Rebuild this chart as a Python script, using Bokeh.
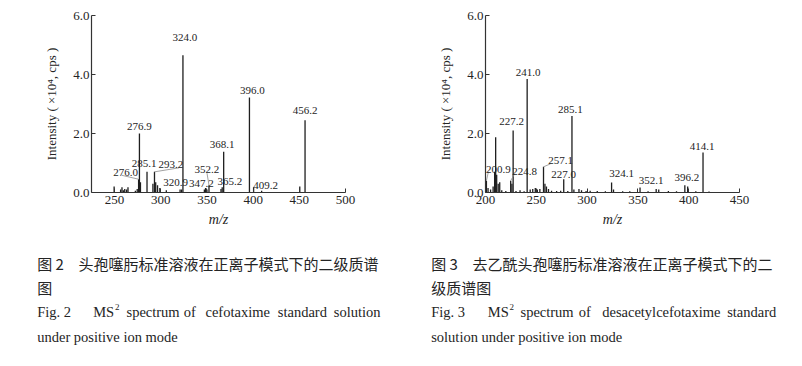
from bokeh.plotting import figure
from bokeh.layouts import row, column
from bokeh.models import Label, FixedTicker, Range1d
from bokeh.embed import file_html
from bokeh.resources import INLINE

# ---------------- data: Fig. 2, cefotaxime ----------------
mz_cef = [249.5, 256.5, 258.0, 259.5, 261.0, 263.0, 264.5, 272.5, 274.5, 276.0,
          276.9, 278.0, 285.1, 291.5, 293.2, 294.5, 296.5, 299.0, 306.0, 320.9,
          322.5, 324.0, 347.2, 348.5, 350.0, 352.2, 365.2, 366.5, 368.1, 396.0,
          400.5, 409.2, 450.5, 456.2]
int_cef = [0.20, 0.10, 0.18, 0.08, 0.12, 0.10, 0.18, 0.06, 0.12, 0.45,
           2.00, 0.35, 0.70, 0.30, 0.70, 0.35, 0.25, 0.15, 0.08, 0.10,
           0.10, 4.65, 0.10, 0.15, 0.10, 0.25, 0.12, 0.18, 1.38, 3.22,
           0.18, 0.06, 0.20, 2.45]
lab_cef_text = ["324.0", "396.0", "456.2", "276.9", "368.1", "285.1", "293.2",
                "276.0", "352.2", "320.9", "347.2", "365.2", "409.2"]
lab_cef_peak = [324.0, 396.0, 456.2, 276.9, 368.1, 285.1, 293.2,
                276.0, 352.2, 320.9, 347.2, 365.2, 409.2]

# ---------------- data: Fig. 3, desacetylcefotaxime ----------------
mz_des = [200.9, 202.5, 205.0, 207.5, 209.0, 210.0, 211.0, 212.5, 214.0, 216.0,
          220.0, 224.8, 226.0, 227.2, 230.0, 234.0, 238.0, 241.0, 244.0, 246.5,
          249.0, 251.0, 253.5, 257.1, 258.5, 260.0, 262.0, 265.0, 270.0, 274.0,
          277.0, 281.0, 285.1, 287.0, 292.0, 294.5, 299.0, 303.0, 310.0, 318.0,
          324.1, 326.0, 335.0, 342.0, 352.1, 360.0, 368.0, 370.5, 380.0, 388.0,
          396.2, 399.0, 407.0, 414.1, 420.0]
int_des = [0.40, 0.15, 0.10, 0.20, 0.70, 1.87, 0.60, 0.30, 0.35, 0.08,
           0.05, 0.40, 0.30, 2.10, 0.05, 0.08, 0.04, 3.85, 0.10, 0.12,
           0.15, 0.10, 0.12, 0.87, 0.30, 0.20, 0.12, 0.06, 0.05, 0.06,
           0.45, 0.05, 2.59, 0.10, 0.12, 0.08, 0.05, 0.06, 0.05, 0.04,
           0.34, 0.10, 0.04, 0.04, 0.17, 0.04, 0.12, 0.10, 0.05, 0.04,
           0.25, 0.20, 0.04, 1.36, 0.03]
lab_des_text = ["241.0", "285.1", "227.2", "414.1", "257.1", "227.0", "224.8",
                "200.9", "324.1", "352.1", "396.2"]
lab_des_peak = [241.0, 285.1, 227.2, 414.1, 257.1, 277.0, 224.8,
                200.9, 324.1, 352.1, 396.2]

y_ticks = [0, 2, 4, 6]
y_tick_labels = ["0.0", "2.0", "4.0", "6.0"]

# ---------------- styling / placement ----------------
SERIF = "Liberation Serif"
CJK = "Noto Sans CJK SC"
INK = "#242424"
FW, FH = 254, 177          # frame size in px
W_HALF = 401
TOP_H = 240                # height of the spectrum figures
CAP_H = 366 - TOP_H        # height of the caption strips
FTOP = 15

# label offsets (px, dx right, dy up) relative to the peak top
off_cef = [(2, 18), (3, 7), (0, 10), (0, 7), (-1.5, 7.5), (-3, 8.5), (16.5, 7),
           (-13, 7), (-2, 16), (-4.5, 7.5), (-3, 6), (9, 7), (4, 5)]
lead_cef = {"293.2": (8, -3), "276.0": (-4, -3), "352.2": (0, -4)}
off_des = [(1, 6), (-1.5, 6.5), (-1.5, 9), (-1, 6), (17, 6), (0, 5), (14, 9),
           (12, 11), (10, 8.5), (11, 7), (2, 7.5)]
lead_des = {"224.8": (-10, -2), "200.9": (-10, -2), "257.1": (-10, -3)}


def spectrum(mz, inten, lab_text, lab_peak, offs, leads, xr, xticks, min_left):
    p = figure(width=W_HALF, height=TOP_H, output_backend="svg", toolbar_location=None,
               x_range=Range1d(*xr), y_range=Range1d(0, 6),
               min_border_left=min_left, min_border_right=W_HALF - min_left - FW,
               min_border_top=FTOP, min_border_bottom=TOP_H - FTOP - FH)
    p.outline_line_color = None
    p.grid.visible = False
    p.background_fill_color = "white"
    p.border_fill_color = "white"

    for ax in (p.xaxis[0], p.yaxis[0]):
        ax.axis_line_color = "#333333"
        ax.axis_line_width = 1.2
        ax.major_tick_line_color = "#333333"
        ax.minor_tick_line_color = None
        ax.major_tick_in = 4
        ax.major_tick_out = 0
        ax.major_label_text_font = SERIF
        ax.major_label_text_font_size = "13px"
        ax.major_label_text_color = INK
        ax.axis_label_text_font = SERIF
        ax.axis_label_text_color = INK
    p.xaxis.ticker = FixedTicker(ticks=xticks)
    p.xaxis.major_label_standoff = 3
    p.xaxis.axis_label = "m/z"
    p.xaxis.axis_label_text_font_style = "italic"
    p.xaxis.axis_label_text_font_size = "14px"
    p.xaxis.axis_label_standoff = 5
    p.yaxis.ticker = FixedTicker(ticks=y_ticks)
    p.yaxis.major_label_overrides = {t: s for t, s in zip(y_ticks, y_tick_labels)}
    p.yaxis.major_label_standoff = 2
    p.yaxis.axis_label = "Intensity ( ×10⁴, cps )"
    p.yaxis.axis_label_text_font_style = "normal"
    p.yaxis.axis_label_text_font_size = "13px"
    p.yaxis.axis_label_standoff = 11

    # peaks
    p.segment(x0=mz, y0=[0] * len(mz), x1=mz, y1=inten,
              line_color="#1e1e1e", line_width=1.3)

    kx = (xr[1] - xr[0]) / FW
    ky = 6.0 / FH
    for t, pk, (dx, dy) in zip(lab_text, lab_peak, offs):
        h = inten[mz.index(pk)]
        if t in leads:
            ex, ey = leads[t]
            p.segment(x0=[pk], y0=[h], x1=[pk + (dx + ex) * kx], y1=[h + (dy + ey) * ky],
                      line_color="#8a8a8a", line_width=0.8)
        p.add_layout(Label(x=pk, y=h, x_offset=dx, y_offset=dy, text=t,
                           text_font=SERIF, text_font_size="11px", text_color=INK,
                           text_align="center", text_baseline="middle"))
    return p


def caption(cap_num, cap_cn1, cap_cn2, en_words, en_line2):
    c = figure(width=W_HALF, height=CAP_H, output_backend="svg", toolbar_location=None,
               x_range=Range1d(0, W_HALF), y_range=Range1d(0, CAP_H),
               min_border=0, x_axis_type=None, y_axis_type=None)
    c.outline_line_color = None
    c.grid.visible = False

    def cap(x, y, t, font, size):
        c.add_layout(Label(x=x, y=y, text=t, text_font=font, text_font_size=size,
                           text_color=INK, text_align="left", text_baseline="middle"))

    y1 = CAP_H - 22.7
    y2 = CAP_H - 46.7
    y3 = CAP_H - 71.7
    y4 = CAP_H - 96.0
    x0 = en_words[0][0]
    cap(x0, y1, cap_num, CJK, "15px")
    cap(x0 + 41.3, y1, cap_cn1, CJK, "15px")
    cap(x0, y2, cap_cn2, CJK, "15px")
    for x, w, sup in en_words:
        if sup:
            cap(x, y3 + 5.5, w, SERIF, "9px")
        else:
            cap(x, y3, w, SERIF, "14.5px")
    cap(x0, y4, en_line2, SERIF, "14.5px")
    return c


en_cef = [(36.7, "Fig. 2", False), (92.7, "MS", False), (114.5, "2", True),
          (126.0, "spectrum", False), (183.3, "of", False), (205.0, "cefotaxime", False),
          (277.3, "standard", False), (333.3, "solution", False)]
en_des = [(29.7, "Fig. 3", False), (86.3, "MS", False), (108.0, "2", True),
          (119.0, "spectrum", False), (177.3, "of", False), (200.7, "desacetylcefotaxime", False),
          (325.7, "standard", False)]

p1 = spectrum(mz_cef, int_cef, lab_cef_text, lab_cef_peak, off_cef, lead_cef,
              (225, 500), [250, 300, 350, 400, 450, 500], 91)
p2 = spectrum(mz_des, int_des, lab_des_text, lab_des_peak, off_des, lead_des,
              (200, 450), [200, 250, 300, 350, 400, 450], 84)
c1 = caption("图 2", "头孢噻肟标准溶液在正离子模式下的二级质谱", "图",
             en_cef, "under positive ion mode")
c2 = caption("图 3", "去乙酰头孢噻肟标准溶液在正离子模式下的二", "级质谱图",
             en_des, "solution under positive ion mode")

layout = column(row(p1, p2), row(c1, c2))
open("out.html", "w").write(file_html(layout, INLINE))
